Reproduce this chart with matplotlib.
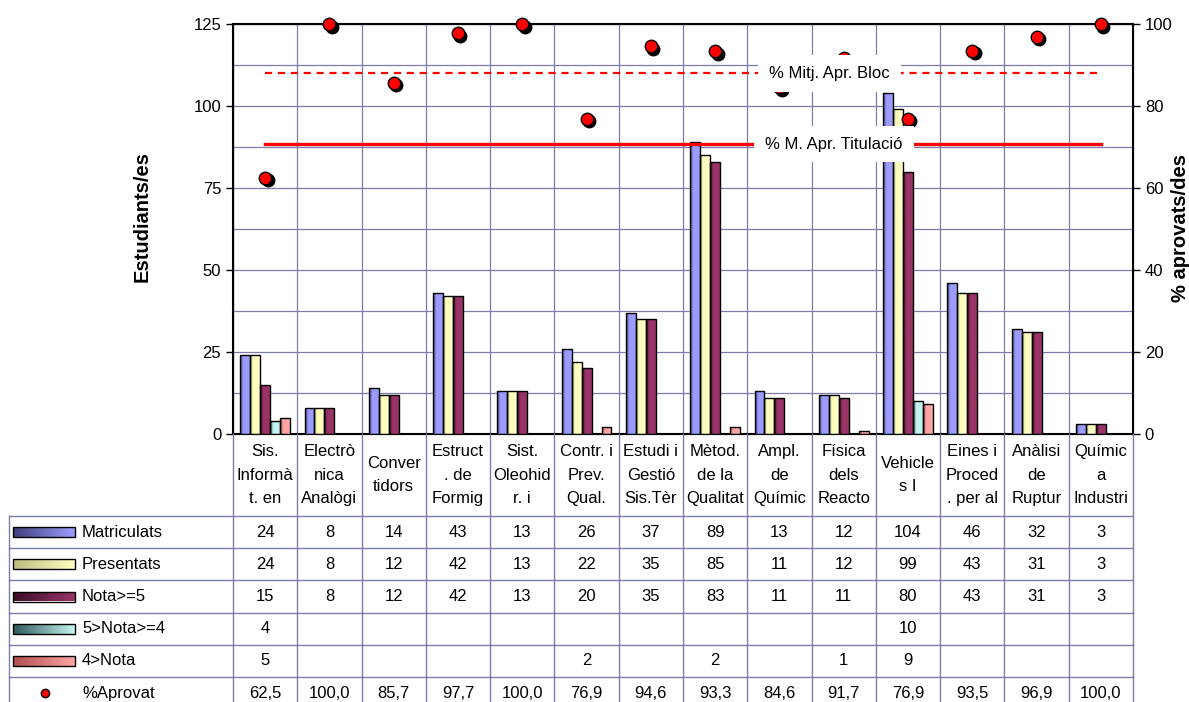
import matplotlib
matplotlib.use('Agg')
import matplotlib.pyplot as plt
import matplotlib.transforms as mtransforms
from matplotlib.colors import LinearSegmentedColormap
from matplotlib.patches import Rectangle
import numpy as np

plt.rcParams['font.family'] = ['Liberation Sans', 'DejaVu Sans']

# --- data ---
cursos = ["Sis.\nInformà\nt. en", "Electrò\nnica\nAnalògi", "Conver\ntidors",
          "Estruct\n. de\nFormig", "Sist.\nOleohid\nr. i", "Contr. i\nPrev.\nQual.",
          "Estudi i\nGestió\nSis.Tèr", "Mètod.\nde la\nQualitat", "Ampl.\nde\nQuímic",
          "Física\ndels\nReacto", "Vehicle\ns I", "Eines i\nProced\n. per al",
          "Anàlisi\nde\nRuptur", "Químic\na\nIndustri"]
nan = np.nan
matriculats = [24, 8, 14, 43, 13, 26, 37, 89, 13, 12, 104, 46, 32, 3]
presentats = [24, 8, 12, 42, 13, 22, 35, 85, 11, 12, 99, 43, 31, 3]
nota_5 = [15, 8, 12, 42, 13, 20, 35, 83, 11, 11, 80, 43, 31, 3]
nota_4_5 = [4, nan, nan, nan, nan, nan, nan, nan, nan, nan, 10, nan, nan, nan]
nota_lt4 = [5, nan, nan, nan, nan, 2, nan, 2, nan, 1, 9, nan, nan, nan]
aprovat = [62.5, 100.0, 85.7, 97.7, 100.0, 76.9, 94.6, 93.3, 84.6, 91.7, 76.9, 93.5, 96.9, 100.0]
mitja_bloc = 88.0
mitja_titulacio = 70.7

series = [("Matriculats", matriculats, ('#40407c', '#9c9cff')),
          ("Presentats", presentats, ('#bcbc84', '#ffffc0')),
          ("Nota>=5", nota_5, ('#3a0e26', '#9a3466')),
          ("5>Nota>=4", nota_4_5, ('#2e5a5a', '#c4f4f0')),
          ("4>Nota", nota_lt4, ('#b05050', '#ffa4a4'))]

GRID = '#7c7cac'
W, H = 1189, 702
AX_L, AX_R, AX_T, AX_B = 233, 1133, 24, 434
colw = (AX_R - AX_L) / len(cursos)
grad = np.linspace(0, 1, 48).reshape(1, -1)


def shade(c0, c1, name):
    return LinearSegmentedColormap.from_list(name, [c0, c1, c1, c1])


fig = plt.figure(figsize=(W / 100, H / 100), dpi=100)
ax = fig.add_axes([AX_L / W, 1 - AX_B / H, (AX_R - AX_L) / W, (AX_B - AX_T) / H])
x = np.arange(len(cursos))
bw = 0.155

# bars with a left-to-right shading
for k, (name, vals, (c0, c1)) in enumerate(series):
    cmap = shade(c0, c1, name)
    bars = ax.bar(x + (k - 2) * bw, vals, bw, facecolor='none', edgecolor='black',
                  linewidth=1, zorder=3)
    for b in bars:
        h = b.get_height()
        if not np.isfinite(h) or h == 0:
            continue
        x0 = b.get_x()
        im = ax.imshow(grad, extent=[x0, x0 + b.get_width(), 0, h], cmap=cmap,
                       aspect='auto', zorder=2.9, interpolation='bilinear')
        im.set_clip_path(b)

ax.set_xlim(-0.5, len(cursos) - 0.5)
ax.set_ylim(0, 125)
ax.set_yticks(np.arange(0, 126, 25))
ax.set_yticks(np.arange(0, 126, 12.5), minor=True)
ax.set_xticks(np.arange(-0.5, len(cursos), 1))
ax.tick_params(axis='x', length=0, labelbottom=False)
ax.tick_params(axis='y', which='major', length=5, width=1, labelsize=12, direction='out')
ax.tick_params(axis='y', which='minor', length=0)
ax.grid(True, which='both', axis='y', color=GRID, linewidth=0.9, zorder=0)
ax.grid(True, which='major', axis='x', color=GRID, linewidth=0.9, zorder=0)
ax.set_axisbelow(True)
for s in ax.spines.values():
    s.set_linewidth(1.5)

# axis titles
fig.text(142 / W, 1 - 216 / H, 'Estudiants/es', fontsize=14.5, fontweight='bold',
         rotation=90, ha='center', va='center')
fig.text(1180 / W, 1 - 228 / H, '% aprovats/des', fontsize=14.5, fontweight='bold',
         rotation=90, ha='center', va='center')

# right axis: percentages
ax2 = ax.twinx()
ax2.set_ylim(0, 100)
ax2.set_yticks(np.arange(0, 101, 20))
ax2.tick_params(axis='y', length=5, width=1, labelsize=12)
shadow = mtransforms.offset_copy(ax2.transData, fig=fig, x=2.5, y=-2.5, units='dots')
ax2.plot(x, aprovat, 'o', color='black', markersize=9, transform=shadow,
         clip_on=False, zorder=4)
ax2.plot(x, aprovat, 'o', markerfacecolor='#ff0000', markeredgecolor='black',
         markeredgewidth=1, markersize=9, clip_on=False, zorder=5)
ax2.plot([x[0], x[-1]], [mitja_bloc] * 2, color='#ff0000', linewidth=1.6,
         dashes=(3.2, 2.6), zorder=6)
ax2.plot([x[0], x[-1]], [mitja_titulacio] * 2, color='#ff0000', linewidth=2.4, zorder=6)
ax2.text(8.78, mitja_bloc, '% Mitj. Apr. Bloc', fontsize=12, ha='center', va='center',
         zorder=7, bbox=dict(boxstyle='square,pad=0.65', facecolor='white', edgecolor='none'))
ax2.text(8.85, mitja_titulacio, '% M. Apr. Titulació', fontsize=12, ha='center',
         va='center', zorder=7,
         bbox=dict(boxstyle='square,pad=0.65', facecolor='white', edgecolor='none'))

# --- data table under the plot ---
TB = 709
tax = fig.add_axes([9 / W, (H - TB) / H, (AX_R - 9) / W, (TB - AX_B) / H])
xmin = -0.5 - (AX_L - 9) / colw
tax.set_xlim(xmin, len(cursos) - 0.5)
tax.set_ylim(TB - AX_B, 0)
tax.axis('off')
head = 82
rowh = 32.2
nrows = len(series) + 1
bottom = head + nrows * rowh
for b in np.arange(-0.5, len(cursos), 1):
    tax.plot([b, b], [0, bottom], color=GRID, linewidth=1, clip_on=False)
tax.plot([xmin, xmin], [head, bottom], color=GRID, linewidth=1, clip_on=False)
for r in range(nrows + 1):
    yy = head + r * rowh
    tax.plot([xmin, len(cursos) - 0.5], [yy, yy], color=GRID, linewidth=1, clip_on=False)

for i, c in enumerate(cursos):
    tax.text(i, head / 2, c, ha='center', va='center', fontsize=12, linespacing=1.72)


def fmt(v, dec=False):
    if not np.isfinite(v):
        return ''
    return f'{v:.1f}'.replace('.', ',') if dec else f'{int(v)}'


px = 1 / colw
for r, (name, vals, (c0, c1)) in enumerate(series):
    yc = head + (r + 0.5) * rowh
    key = Rectangle((xmin + 4 * px, yc - 5), 62 * px, 10, facecolor='none',
                    edgecolor='black', linewidth=1, zorder=3)
    tax.add_patch(key)
    kim = tax.imshow(grad, extent=[xmin + 4 * px, xmin + 66 * px, yc + 5, yc - 5],
                     cmap=LinearSegmentedColormap.from_list(name + 'k', [c0, c1]),
                     aspect='auto', zorder=2, interpolation='bilinear')
    kim.set_clip_path(key)
    tax.text(xmin + 73 * px, yc, name, ha='left', va='center', fontsize=12)
    for i, v in enumerate(vals):
        tax.text(i, yc, fmt(v), ha='center', va='center', fontsize=12)
tax.set_xlim(xmin, len(cursos) - 0.5)
tax.set_ylim(TB - AX_B, 0)

yc = head + (nrows - 0.5) * rowh
tax.plot([xmin + 36 * px], [yc], 'o', color='#ff0000', markeredgecolor='black',
         markersize=6, clip_on=False)
tax.text(xmin + 73 * px, yc, '%Aprovat', ha='left', va='center', fontsize=12)
for i, v in enumerate(aprovat):
    tax.text(i, yc, fmt(v, dec=True), ha='center', va='center', fontsize=12)

fig.savefig('out.png', dpi=100)
plt.close(fig)
